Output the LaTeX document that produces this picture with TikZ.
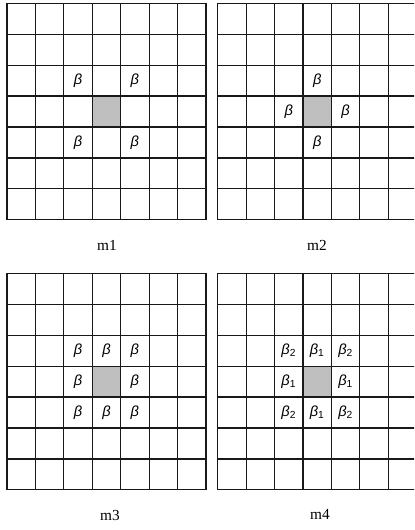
\documentclass[tikz,border=0pt]{standalone}
\usepackage{fontspec}
\setmainfont{Liberation Serif}
\newfontfamily\betafont{Liberation Sans}
\usetikzlibrary{positioning}

\newcommand{\bb}[1]{{\itshape β}\textsubscript{#1}}

\begin{document}
\begin{tikzpicture}[x=0.75pt, y=-0.75pt,
  gridline/.style={line width=0.9pt, draw=black!90},
  centre/.style={fill=black!25},
  beta/.style={font=\betafont\fontsize{11}{13}\selectfont, inner sep=0pt},
  caption/.style={font=\fontsize{11.5}{13}\selectfont}
]
\useasboundingbox[fill=white] (0,0) rectangle (414,530);
\clip (0,0) rectangle (414,530);

% the four 7x7 grids
\foreach \gx/\gy/\gname in {7/3.3/m1, 217.7/3.3/m2, 7/273.3/m3, 217.7/273.3/m4} {
  \begin{scope}[shift={(\gx,\gy)}, x=21.32pt, y=-23.2pt]
    \fill[centre] (3,3) rectangle (4,4);
    \foreach \k in {0,...,7} {
      \draw[gridline] (\k,0) -- (\k,7);
      \draw[gridline] (0,\k) -- (7,\k);
    }
  \end{scope}
}

% m1
\begin{scope}[shift={(7,3.3)}, x=21.32pt, y=-23.2pt]
  \foreach \c/\r/\n in {2/2/nw, 4/2/ne, 2/4/sw, 4/4/se}
    \node[beta] (a-\n) at (\c+.5,\r+.5) {\itshape β};
\end{scope}

% m2
\begin{scope}[shift={(217.7,3.3)}, x=21.32pt, y=-23.2pt]
  \foreach \c/\r/\n in {3/2/n, 2/3/w, 4/3/e, 3/4/s}
    \node[beta] (b-\n) at (\c+.5,\r+.5) {\itshape β};
\end{scope}

% m3
\begin{scope}[shift={(7,273.3)}, x=21.32pt, y=-23.2pt]
  \foreach \c/\r/\n in {2/2/nw, 3/2/n, 4/2/ne, 2/3/w, 4/3/e, 2/4/sw, 3/4/s, 4/4/se}
    \node[beta] (c-\n) at (\c+.5,\r+.5) {\itshape β};
\end{scope}

% m4
\begin{scope}[shift={(217.7,273.3)}, x=21.32pt, y=-23.2pt]
  \foreach \c/\r/\n/\s in {2/2/nw/2, 3/2/n/1, 4/2/ne/2, 2/3/w/1, 4/3/e/1, 2/4/sw/2, 3/4/s/1, 4/4/se/2}
    \node[beta] (d-\n) at (\c+.5,\r+.5) {\bb{\s}};
\end{scope}

\node[caption] (m1) at (107,245) {m1};
\node[caption] (m2) at (317,245) {m2};
\node[caption] (m3) at (110,515) {m3};
\node[caption] (m4) at (320,514) {m4};
\end{tikzpicture}
\end{document}
